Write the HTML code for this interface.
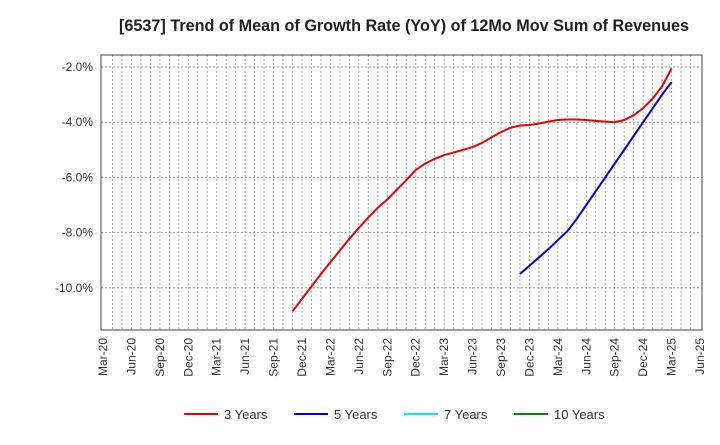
<!DOCTYPE html>
<html><head><meta charset="utf-8"><style>
body{margin:0;background:#fff;font-family:"Liberation Sans",sans-serif}
</style></head><body>
<svg id="c" width="720" height="440" xmlns="http://www.w3.org/2000/svg">
<text x="404" y="31" text-anchor="middle" font-size="16.2" font-weight="bold" fill="#222">[6537]  Trend of Mean of Growth Rate (YoY) of 12Mo Mov Sum of Revenues</text>
<g id="grid"></g><g id="axes"></g><g id="series"></g><g id="legend"></g>
</svg>
<script>
const xLabels=["Mar-20","Jun-20","Sep-20","Dec-20","Mar-21","Jun-21","Sep-21","Dec-21","Mar-22","Jun-22","Sep-22","Dec-22","Mar-23","Jun-23","Sep-23","Dec-23","Mar-24","Jun-24","Sep-24","Dec-24","Mar-25","Jun-25"];
const yTicks=[-2,-4,-6,-8,-10];
const y3Start=20; // months after Mar-20 (Nov-21)
const y3=[-10.85,-10.4,-9.95,-9.5,-9.07,-8.65,-8.22,-7.83,-7.45,-7.1,-6.8,-6.45,-6.1,-5.73,-5.5,-5.33,-5.19,-5.1,-5.0,-4.9,-4.75,-4.55,-4.36,-4.2,-4.12,-4.1,-4.05,-3.98,-3.92,-3.9,-3.9,-3.92,-3.95,-3.98,-4.0,-3.92,-3.75,-3.49,-3.15,-2.7,-2.05];
const y5Start=44; // Nov-23
const y5=[-9.5,-9.2,-8.9,-8.6,-8.27,-7.95,-7.5,-7.0,-6.5,-6.0,-5.5,-5.0,-4.5,-4.0,-3.5,-3.0,-2.55];
const X0=101,X1=702,Y0=55,Y1=330;
const xs=m=>103+m*(597/63);
const ys=v=>67+(-2-v)*27.6;
const ns="http://www.w3.org/2000/svg";
function mk(t,p,a){const e=document.createElementNS(ns,t);for(const k in a)e.setAttribute(k,a[k]);p.appendChild(e);return e;}
const g=document.getElementById('grid'),ax=document.getElementById('axes'),sr=document.getElementById('series'),lg=document.getElementById('legend');
for(let m=1;m<63;m++){const l=mk('line',g,{x1:xs(m),x2:xs(m),y1:Y0,y2:Y1,stroke:'#aaa','stroke-dasharray':'2,2','stroke-width':1});

}
yTicks.forEach(v=>{const l=mk('line',g,{x1:X0,x2:X1,y1:ys(v),y2:ys(v),stroke:'#999','stroke-dasharray':'2,2'});


const t=mk('text',ax,{x:93,y:ys(v)+4,'text-anchor':'end','font-size':12,fill:'#333'});t.textContent=v.toFixed(1)+'%';

});
const fr=mk('rect',ax,{x:X0,y:Y0,width:X1-X0,height:Y1-Y0,fill:'none',stroke:'#444','stroke-width':1});


xLabels.forEach((s,i)=>{const x=xs(i*3);const t=mk('text',ax,{transform:`translate(${x+4},${338}) rotate(-90)`,'text-anchor':'end','font-size':12,fill:'#333'});t.textContent=s;

});
function line(arr,start,col,name){const p=mk('polyline',sr,{points:arr.map((v,i)=>xs(start+i)+','+ys(v)).join(' '),fill:'none',stroke:col,'stroke-width':2});

}
line(y3,y3Start,'#e00','line-3-years');
line(y5,y5Start,'#00e','line-5-years');
[["3 Years","#e00",184],["5 Years","#00e",294],["7 Years","#0ee",404],["10 Years","#080",514]].forEach(([n,c,x])=>{
const ge=mk('g',lg,{});


mk('line',ge,{x1:x,x2:x+34,y1:414,y2:414,stroke:c,'stroke-width':2});
const t=mk('text',ge,{x:x+40,y:419,'font-size':13,fill:'#333'});t.textContent=n;});
</script>
</body></html>
